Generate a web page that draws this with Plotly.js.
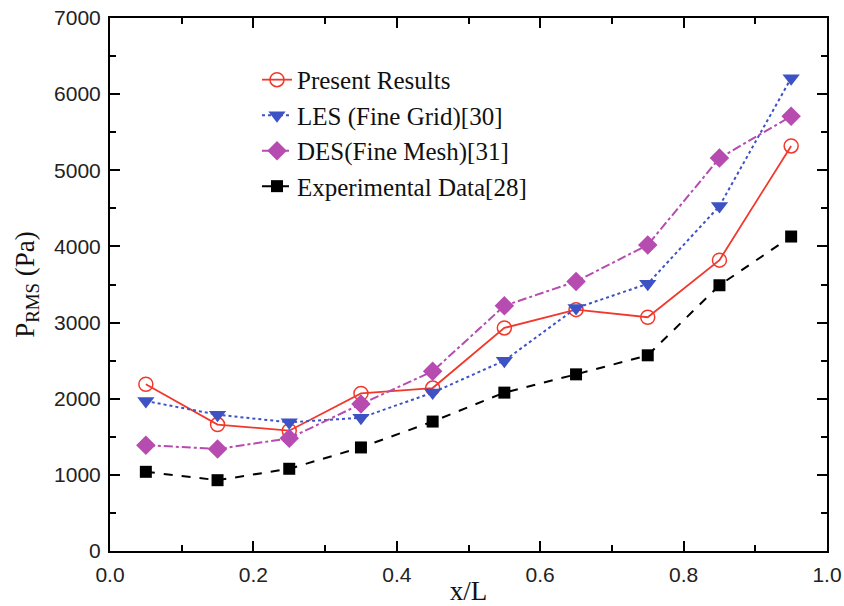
<!DOCTYPE html>
<html><head><meta charset="utf-8">
<script src="https://cdn.plot.ly/plotly-3.0.1.min.js"></script>
<style>body{margin:0;background:#fff}#chart{width:844px;height:606px}</style>
</head><body><div id="chart"></div>
<script>
const xPos = [0.05,0.15,0.25,0.35,0.45,0.55,0.65,0.75,0.85,0.95];
const present = [2190,1660,1580,2070,2140,2930,3170,3070,3820,5320];
const les = [1970,1790,1690,1750,2080,2500,3190,3510,4530,6210];
const des = [1390,1340,1480,1930,2360,3220,3540,4020,5160,5710];
const exper = [1040,930,1080,1360,1700,2080,2320,2570,3490,4130];
const names = ["Present Results","LES (Fine Grid)[30]","DES(Fine Mesh)[31]","Experimental Data[28]"];

const traces = [
 {x:xPos,y:present,name:names[0],mode:'lines+markers',line:{color:'#f2382c',width:1.8,dash:'solid'},
  marker:{symbol:'circle-open',size:14,color:'#f2382c',line:{width:1.5}}},
 {x:xPos,y:les,name:names[1],mode:'lines+markers',line:{color:'#3d52c4',width:2,dash:'dot'},
  marker:{symbol:'triangle-down',size:15,color:'#3d52c4'}},
 {x:xPos,y:des,name:names[2],mode:'lines+markers',line:{color:'#b64bb0',width:2,dash:'dashdot'},
  marker:{symbol:'diamond',size:15,color:'#b64bb0'}},
 {x:xPos,y:exper,name:names[3],mode:'lines+markers',line:{color:'#000',width:2,dash:'dash'},
  marker:{symbol:'square',size:12,color:'#000'}}
];
const axisCommon = {showline:true,linecolor:'#000',linewidth:2,mirror:'allticks',ticks:'inside',
  ticklen:10,tickwidth:2,tickcolor:'#000',showgrid:false,zeroline:false,
  tickfont:{family:'Liberation Sans, Arial, sans-serif',size:21,color:'#222'}};
const layout = {
 width:844,height:606,margin:{l:110,r:17,t:18,b:55},paper_bgcolor:'#fff',plot_bgcolor:'#fff',
 showlegend:true,
 legend:{x:0.205,y:0.927,xanchor:'left',yanchor:'top',bgcolor:'rgba(0,0,0,0)',
   font:{family:'Liberation Serif, Times New Roman, serif',size:25,color:'#111'},tracegroupgap:0},
 xaxis:Object.assign({},axisCommon,{range:[0,1],dtick:0.2,tickformat:'.1f',ticklabelstandoff:4,
   minor:{dtick:0.1,ticks:'inside',ticklen:6,tickwidth:2,tickcolor:'#000'},
   title:{text:'x/L',font:{family:'Liberation Serif, Times New Roman, serif',size:27,color:'#111'},standoff:0}}),
 yaxis:Object.assign({},axisCommon,{range:[0,7000],dtick:1000,ticklabelstandoff:3,
   minor:{dtick:500,ticks:'inside',ticklen:6,tickwidth:2,tickcolor:'#000'},
   title:{text:'P<sub>RMS</sub> (Pa)',font:{family:'Liberation Serif, Times New Roman, serif',size:27,color:'#111'},standoff:12}})
};
Plotly.newPlot('chart',traces,layout,{displayModeBar:false,staticPlot:true});
</script></body></html>
